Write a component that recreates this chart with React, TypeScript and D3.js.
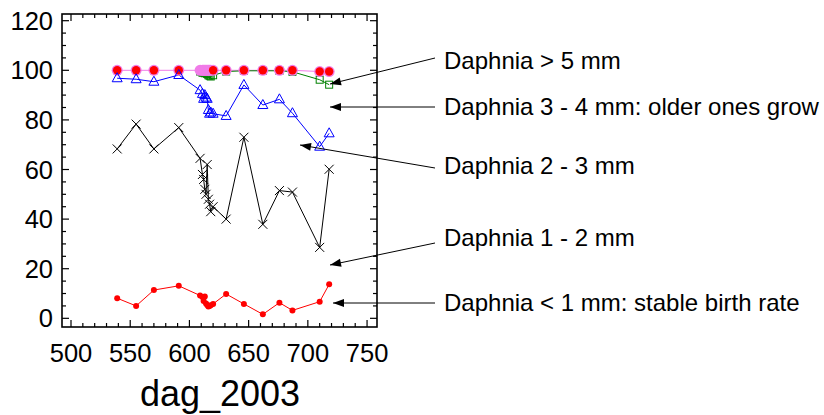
import React from 'react'
import * as d3 from 'd3'

// sampling days (dag_2003)
const days = [539, 555, 570, 591, 609, 611, 612, 613, 614, 615, 616, 617, 618, 620, 631, 646, 662, 676, 687, 710, 718]

// cumulative percentages per size class
const lt1 = [8.1, 5.0, 11.4, 13.1, 9.2, 8.6, 7.0, 8.8, 6.0, 5.4, 4.8, 5.0, 5.3, 5.8, 9.8, 5.8, 1.6, 6.3, 3.2, 6.7, 13.7]
const mm1to2 = [68.3, 78.3, 68.3, 76.9, 64.5, 58, 56, 52, 50, 62, 48, 46, 43, 45, 40, 73, 37.9, 51.5, 50.9, 28.6, 60.1]
const mm2to3 = [96.8, 96.4, 95.4, 98.1, 92, 90.5, 88.5, 90, 89, 88.5, 84, 82.5, 83, 82.5, 81.6, 94.1, 86, 88.3, 82.7, 69.2, 74.6]
const mm3to4 = [NaN, NaN, NaN, NaN, 99.5, 99, 99.2, 98.8, 99, 98.5, 98, 97.8, 97.5, 98, 99.5, 99.8, 99.8, 99.8, 99.4, 96.2, 94.2]
const gt5 = [100, 100, 100, 100, 100, 100, 100, 100, 100, 100, 100, 100, 100, 100, 100, 100, 100, 100, 100, 99.5, 99.5]
const total = [100, 100, 100, 100, NaN, NaN, NaN, NaN, NaN, NaN, NaN, NaN, NaN, 100, 100, 100, 100, 100, 100, 99.5, 99.5]

const xMajor = [500, 550, 600, 650, 700, 750]
const yMajor = [0, 20, 40, 60, 80, 100, 120]

const notes = [
  { text: 'Daphnia > 5 mm', y: 60, from: [435, 58], to: [330, 84] },
  { text: 'Daphnia 3 - 4 mm: older ones grow', y: 106, from: [435, 107], to: [330, 107] },
  { text: 'Daphnia 2 - 3 mm', y: 165, from: [435, 168], to: [300, 145] },
  { text: 'Daphnia 1 - 2 mm', y: 237, from: [435, 243], to: [330, 265] },
  { text: 'Daphnia < 1 mm: stable birth rate', y: 302, from: [435, 303], to: [333, 303] },
]

const font = 'Liberation Sans, Arial, sans-serif'

export default function App() {
  const left = 62, right = 377, top = 14, bottom = 327
  const x = d3.scaleLinear().domain([492.4, 758.4]).range([left, right])
  const y = d3.scaleLinear().domain([-3.5, 122.7]).range([bottom, top])

  const xMinor = d3.range(500, 760, 10).filter(v => v % 50 !== 0)
  const yMinor = d3.range(0, 121, 5).filter(v => v % 20 !== 0)

  const line = (vals: number[]) =>
    d3.line<number>()
      .defined(v => !isNaN(v))
      .x((_, i) => x(days[i]))
      .y(v => y(v))(vals) || ''

  const pts = (vals: number[]) =>
    vals.map((v, i) => ({ cx: x(days[i]), cy: y(v), ok: !isNaN(v) })).filter(p => p.ok)

  const arrowHead = (from: number[], to: number[]) => {
    const a = Math.atan2(to[1] - from[1], to[0] - from[0])
    const L = 11, W = 4
    const bx = to[0] - L * Math.cos(a), by = to[1] - L * Math.sin(a)
    const px = -Math.sin(a) * W, py = Math.cos(a) * W
    return `M${to[0]},${to[1]}L${bx + px},${by + py}L${bx - px},${by - py}Z`
  }

  return (
    <svg width={824} height={415} style={{ position: 'absolute', left: 0, top: 0, background: '#fff' }}>
      {/* ticks on all four sides */}
      <g stroke="#000" strokeWidth={1.2}>
        {xMajor.map(v => (
          <g key={'xM' + v}>
            <line x1={x(v)} x2={x(v)} y1={bottom} y2={bottom - 7} />
            <line x1={x(v)} x2={x(v)} y1={top} y2={top + 7} />
          </g>
        ))}
        {xMinor.map(v => (
          <g key={'xm' + v}>
            <line x1={x(v)} x2={x(v)} y1={bottom} y2={bottom - 4} />
            <line x1={x(v)} x2={x(v)} y1={top} y2={top + 4} />
          </g>
        ))}
        {yMajor.map(v => (
          <g key={'yM' + v}>
            <line x1={left} x2={left + 7} y1={y(v)} y2={y(v)} />
            <line x1={right} x2={right - 7} y1={y(v)} y2={y(v)} />
          </g>
        ))}
        {yMinor.map(v => (
          <g key={'ym' + v}>
            <line x1={left} x2={left + 4} y1={y(v)} y2={y(v)} />
            <line x1={right} x2={right - 4} y1={y(v)} y2={y(v)} />
          </g>
        ))}
      </g>
      <rect x={left} y={top} width={right - left} height={bottom - top} fill="none" stroke="#000" strokeWidth={1.6} />

      {/* tick labels */}
      <g fontFamily={font} fontSize={25.5} fill="#000">
        {xMajor.map(v => (
          <text key={'xl' + v} x={x(v)} y={362} textAnchor="middle">{v}</text>
        ))}
        {yMajor.map(v => (
          <text key={'yl' + v} x={53} y={y(v) + 9} textAnchor="end">{v}</text>
        ))}
      </g>
      <text x={220} y={406} textAnchor="middle" fontFamily={font} fontSize={36}>dag_2003</text>

      {/* series */}
      <path d={line(gt5)} fill="none" stroke="#f07ce8" strokeWidth={1} />
      <path d={line(mm3to4)} fill="none" stroke="#008000" strokeWidth={1} />
      <path d={line(mm2to3)} fill="none" stroke="#0000ff" strokeWidth={1} />
      <path d={line(mm1to2)} fill="none" stroke="#000" strokeWidth={1} />
      <path d={line(lt1)} fill="none" stroke="#ff0000" strokeWidth={1} />

      {pts(mm3to4).map((p, i) => (
        <rect key={'sq' + i} x={p.cx - 3.5} y={p.cy - 3.5} width={7} height={7} fill="none" stroke="#008000" strokeWidth={1} />
      ))}
      {pts(gt5).map((p, i) => (
        <circle key={'pk' + i} cx={p.cx} cy={p.cy} r={5.5} fill="#f07ce8" />
      ))}
      {pts(total).map((p, i) => (
        <circle key={'rd' + i} cx={p.cx} cy={p.cy} r={4.2} fill="#ff0000" />
      ))}
      {pts(mm2to3).map((p, i) => (
        <path key={'tr' + i} transform={`translate(${p.cx},${p.cy})`} d="M0,-5.5L5,3.5L-5,3.5Z" fill="none" stroke="#0000ff" strokeWidth={1} />
      ))}
      {pts(mm1to2).map((p, i) => (
        <path key={'x' + i} transform={`translate(${p.cx},${p.cy})`} d="M-4.5,-4.5L4.5,4.5M-4.5,4.5L4.5,-4.5" stroke="#000" strokeWidth={1} />
      ))}
      {pts(lt1).map((p, i) => (
        <circle key={'lt' + i} cx={p.cx} cy={p.cy} r={3} fill="#ff0000" />
      ))}

      {/* annotations */}
      {notes.map(n => (
        <g key={n.text}>
          <line x1={n.from[0]} y1={n.from[1]} x2={n.to[0]} y2={n.to[1]} stroke="#000" strokeWidth={1} />
          <path d={arrowHead(n.from, n.to)} fill="#000" />
          <text x={444} y={n.y + 8.5} fontFamily={font} fontSize={24} fill="#000">{n.text}</text>
        </g>
      ))}
    </svg>
  )
}
